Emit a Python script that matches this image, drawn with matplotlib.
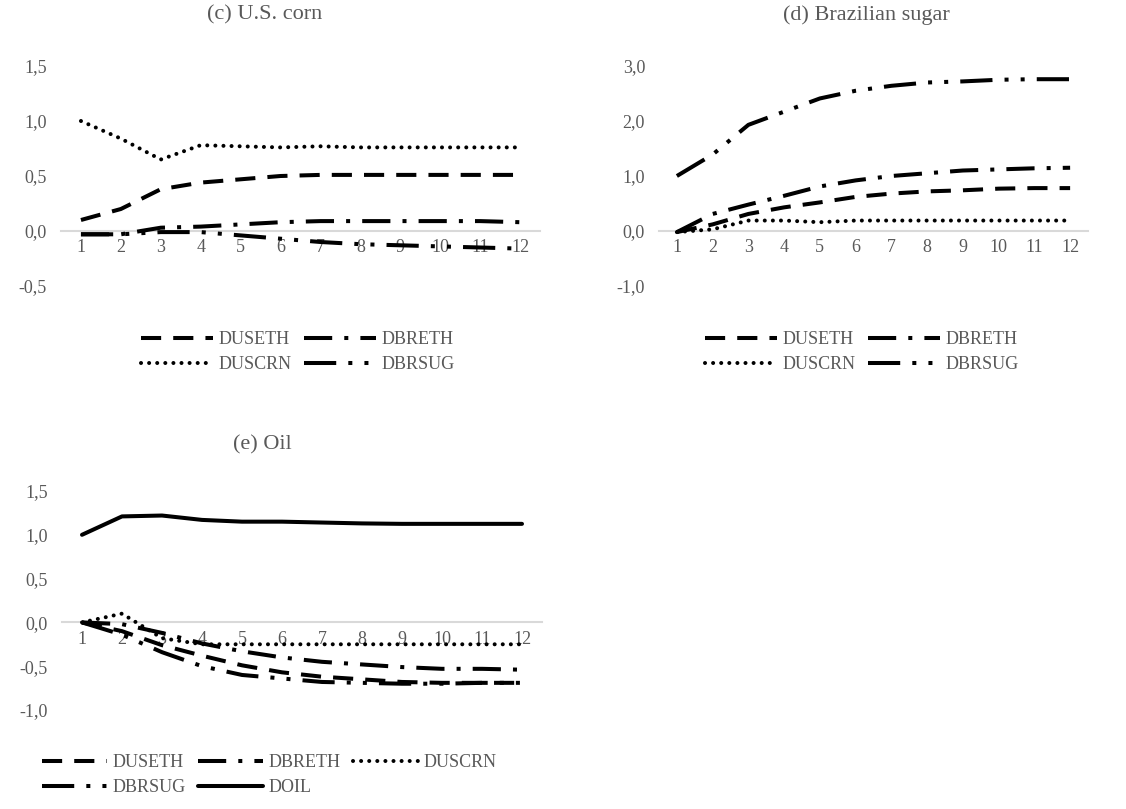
import matplotlib
matplotlib.use("Agg")
import matplotlib.pyplot as plt
from matplotlib.ticker import FuncFormatter, MultipleLocator

plt.rcParams['font.family'] = ['Liberation Serif', 'DejaVu Serif']

# periods after the shock
periods = list(range(1, 13))

# (c) U.S. corn
corn_duseth = [0.10, 0.20, 0.38, 0.44, 0.47, 0.50, 0.51, 0.51, 0.51, 0.51, 0.51, 0.51]
corn_dbreth = [-0.03, -0.03, 0.03, 0.04, 0.06, 0.08, 0.09, 0.09, 0.09, 0.09, 0.09, 0.08]
corn_duscrn = [1.00, 0.84, 0.65, 0.78, 0.77, 0.76, 0.77, 0.76, 0.76, 0.76, 0.76, 0.76]
corn_dbrsug = [-0.03, -0.03, -0.01, -0.01, -0.04, -0.07, -0.10, -0.12, -0.13, -0.14, -0.15, -0.16]

# (d) Brazilian sugar
sugar_duseth = [-0.02, 0.12, 0.31, 0.43, 0.52, 0.62, 0.68, 0.72, 0.74, 0.77, 0.78, 0.78]
sugar_dbreth = [-0.02, 0.31, 0.48, 0.64, 0.81, 0.92, 1.00, 1.05, 1.10, 1.12, 1.14, 1.15]
sugar_duscrn = [-0.02, 0.03, 0.19, 0.19, 0.16, 0.19, 0.19, 0.19, 0.19, 0.19, 0.19, 0.19]
sugar_dbrsug = [1.00, 1.39, 1.93, 2.17, 2.41, 2.55, 2.64, 2.70, 2.72, 2.75, 2.76, 2.76]

# (e) Oil
oil_duseth = [0.0, -0.10, -0.26, -0.38, -0.49, -0.57, -0.62, -0.65, -0.68, -0.69, -0.69, -0.69]
oil_dbreth = [0.0, -0.02, -0.12, -0.24, -0.33, -0.40, -0.45, -0.48, -0.51, -0.53, -0.53, -0.54]
oil_duscrn = [0.0, 0.10, -0.18, -0.25, -0.25, -0.25, -0.25, -0.25, -0.25, -0.25, -0.25, -0.25]
oil_dbrsug = [0.0, -0.14, -0.34, -0.50, -0.60, -0.64, -0.68, -0.69, -0.70, -0.70, -0.69, -0.69]
oil_doil = [1.00, 1.21, 1.22, 1.17, 1.15, 1.15, 1.14, 1.13, 1.125, 1.125, 1.125, 1.125]

GREY = '#595959'
LW = 2.9
FS = 13

# line styles (dash patterns in units of line width)
styles = {
    'DUSETH': dict(dashes=(5, 3)),
    'DBRETH': dict(dashes=(7, 3, 1, 3)),
    'DUSCRN': dict(dashes=(0.01, 2), dash_capstyle='round'),
    'DBRSUG': dict(dashes=(8, 3, 1, 3, 1, 3)),
    'DOIL': dict(),
}


def comma(v, pos):
    return f"{v:.1f}".replace('.', ',')


def setup(ax, ylim, step):
    ax.set_xlim(0.5, 12.5)
    ax.set_ylim(*ylim)
    ax.yaxis.set_major_locator(MultipleLocator(step))
    ax.yaxis.set_major_formatter(FuncFormatter(comma))
    ax.set_xticks(periods)
    ax.set_xticklabels([str(p) for p in periods])
    for s in ['top', 'right', 'left']:
        ax.spines[s].set_visible(False)
    ax.spines['bottom'].set_position(('data', 0))
    ax.spines['bottom'].set_color('#d9d9d9')
    ax.spines['bottom'].set_linewidth(1.5)
    ax.spines['bottom'].set_zorder(0)
    ax.tick_params(length=0, labelsize=FS, labelcolor=GREY)
    ax.tick_params(axis='x', pad=6)
    ax.tick_params(axis='y', pad=10)


def draw(ax, series):
    lines = {}
    for name, vals in series:
        ln, = ax.plot(periods, vals, color='black', lw=LW, label=name,
                      solid_capstyle='round', **styles[name])
        lines[name] = ln
    return lines


fig = plt.figure(figsize=(11.26, 8.09), dpi=100)
W, H = 1126, 809


def add_axes(x0, x1, ytop, ybot):
    return fig.add_axes([x0 / W, 1 - ybot / H, (x1 - x0) / W, (ybot - ytop) / H])


leg_kw = dict(frameon=False, bbox_transform=fig.transFigure, fontsize=FS,
              labelcolor=GREY, handletextpad=0.3, columnspacing=0.7,
              borderpad=0, labelspacing=0.45)

# (c) U.S. corn
ax_c = add_axes(61, 540, 66, 286)
setup(ax_c, (-0.5, 1.5), 0.5)
lc = draw(ax_c, [('DUSETH', corn_duseth), ('DBRETH', corn_dbreth),
                 ('DUSCRN', corn_duscrn), ('DBRSUG', corn_dbrsug)])
fig.text(265 / W, 1 - 15 / H, '(c) U.S. corn', ha='center', va='center',
         fontsize=16, color=GREY)
order = ['DUSETH', 'DUSCRN', 'DBRETH', 'DBRSUG']
ax_c.legend([lc[k] for k in order], order, ncol=2, loc='upper center',
            bbox_to_anchor=(298 / W, 1 - 322 / H), handlelength=4.0, **leg_kw)

# (d) Brazilian sugar
ax_d = add_axes(659, 1088, 66, 286)
setup(ax_d, (-1.0, 3.0), 1.0)
ld = draw(ax_d, [('DUSETH', sugar_duseth), ('DBRETH', sugar_dbreth),
                 ('DUSCRN', sugar_duscrn), ('DBRSUG', sugar_dbrsug)])
fig.text(866 / W, 1 - 15 / H, '(d) Brazilian sugar', ha='center', va='center',
         fontsize=16, color=GREY)
ax_d.legend([ld[k] for k in order], order, ncol=2, loc='upper center',
            bbox_to_anchor=(862 / W, 1 - 322 / H), handlelength=4.0, **leg_kw)

# (e) Oil
ax_e = add_axes(62, 542, 491, 710)
setup(ax_e, (-1.0, 1.5), 0.5)
le = draw(ax_e, [('DUSETH', oil_duseth), ('DBRETH', oil_dbreth),
                 ('DUSCRN', oil_duscrn), ('DBRSUG', oil_dbrsug),
                 ('DOIL', oil_doil)])
fig.text(262 / W, 1 - 445 / H, '(e) Oil', ha='center', va='center',
         fontsize=16, color=GREY)
order_e = ['DUSETH', 'DBRSUG', 'DBRETH', 'DOIL', 'DUSCRN']
ax_e.legend([le[k] for k in order_e], order_e, ncol=3, loc='upper left',
            bbox_to_anchor=(33 / W, 1 - 745 / H), handlelength=3.6, **leg_kw)

fig.savefig('out.png', dpi=100)
